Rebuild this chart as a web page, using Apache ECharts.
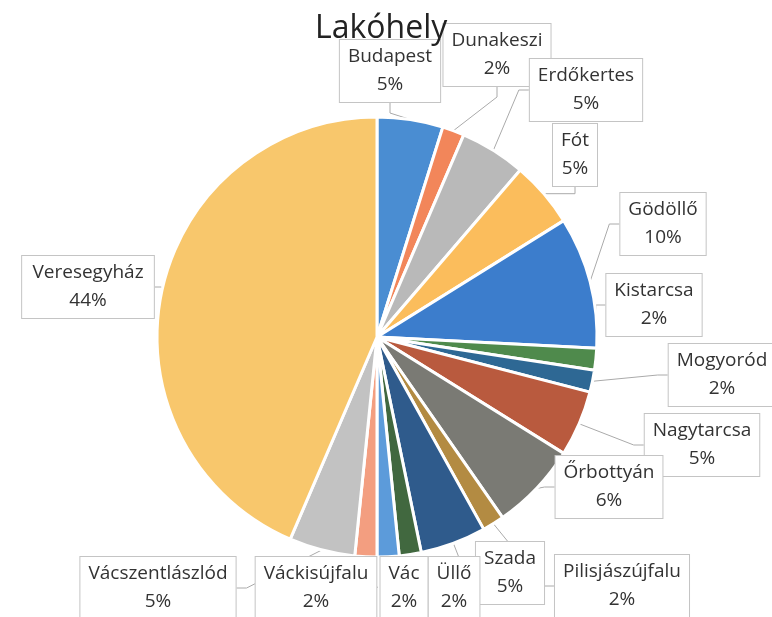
<!DOCTYPE html>
<html>
<head>
<meta charset="utf-8">
<script src="https://cdn.jsdelivr.net/npm/echarts@6/dist/echarts.min.js"></script>
<style>
  html, body { margin: 0; padding: 0; background: #fff; }
  #lakohely-chart { width: 772px; height: 617px; }
</style>
</head>
<body>
<div id="lakohely-chart"></div>
<script>
// Lakóhely megoszlása (válaszadók száma, a címkén kerekített százalék)
var places = ['Budapest', 'Dunakeszi', 'Erdőkertes', 'Fót', 'Gödöllő', 'Kistarcsa', 'Mogyoród',
	'Nagytarcsa', 'Őrbottyán', 'Pilisjászújfalu', 'Szada', 'Üllő', 'Vác', 'Váckisújfalu',
	'Vácszentlászlód', 'Veresegyház'];
var counts = [3, 1, 3, 3, 6, 1, 1, 3, 4, 1, 3, 1, 1, 1, 3, 27];
var colors = ['#4a8dd2', '#f2865a', '#b9b9b9', '#fbbd5c', '#3c7dcc', '#4f8a4c', '#2e6894',
	'#b95a3e', '#7a7a74', '#b38b42', '#2f5b8c', '#41683f', '#5c9bda', '#f39e80',
	'#c2c2c2', '#f8c76c'];

// címkedobozok helye (középpont, px)
var labelPos = [[390, 71], [497, 55], [586, 90], [575, 155], [663, 224], [654, 305],
	[722, 375], [702, 445], [609, 487], [622, 586], [510, 573], [454, 588], [404, 588],
	[316, 588], [158, 588], [88, 287]];

var total = counts.reduce(function(a, b) { return a + b; }, 0);

var chart = echarts.init(document.getElementById('lakohely-chart'));
chart.setOption({
	animation : false,
	title : {
		text : 'Lakóhely',
		left : 310,
		top : 8,
		textStyle : {
			fontFamily : 'Open Sans',
			fontSize : 32,
			fontWeight : 'normal',
			color : '#222'
		}
	},
	series : [ {
		type : 'pie',
		center : [ 377, 337 ],
		radius : 220,
		startAngle : 90,
		clockwise : true,
		data : places.map(function(name, i) {
			return { name : name, value : counts[i], itemStyle : { color : colors[i] } };
		}),
		itemStyle : {
			borderColor : '#fff',
			borderWidth : 3
		},
		label : {
			show : true,
			position : 'outside',
			formatter : function(p) {
				return p.name + '\n' + Math.round(p.value / total * 100) + '%';
			},
			fontFamily : 'Open Sans',
			fontSize : 19,
			lineHeight : 28,
			color : '#333',
			align : 'center',
			backgroundColor : '#fff',
			borderColor : '#c4c4c4',
			borderWidth : 1,
			padding : [ 3, 8 ]
		},
		labelLine : {
			show : true,
			length : 10,
			length2 : 10,
			lineStyle : { color : '#aaa', width : 1 }
		},
		labelLayout : function(params) {
			var p = labelPos[params.dataIndex];
			return { x : p[0], y : p[1], align : 'center', verticalAlign : 'middle' };
		}
	} ]
});
</script>
</body>
</html>
